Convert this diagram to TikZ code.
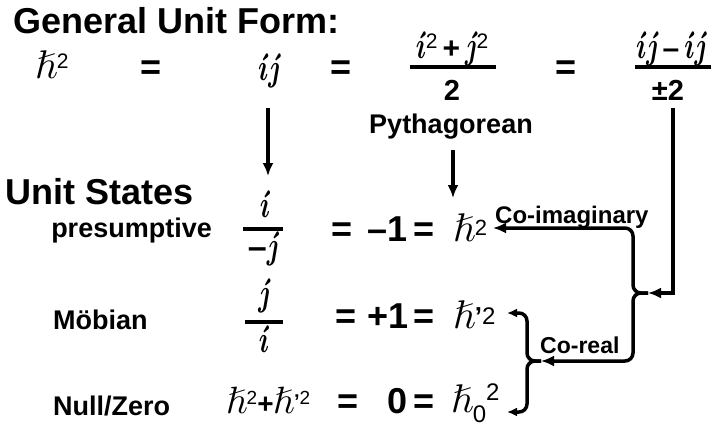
\RequirePackage{fix-cm}
\documentclass[tikz,border=0pt]{standalone}
\usepackage{amsmath,amssymb}
\usepackage{fontspec}
\setmainfont{Liberation Sans}
\usetikzlibrary{arrows.meta}
\newcommand{\SupTwo}[2]{\raisebox{#1}{\fontsize{#2}{#2}\selectfont\mdseries 2}}
\newcommand{\Ii}{\scalebox{0.68}[1]{$\acute{\imath}$}}
\newcommand{\Jj}{\scalebox{0.68}[1]{$\acute{\jmath}$}}
\newcommand{\Hh}{$\hslash$}
\newcommand{\Apos}[2]{\raisebox{#1}{\fontsize{#2}{#2}\selectfont\bfseries ’}}
\begin{document}
\begin{tikzpicture}[x=1pt,y=-1pt,
  lab/.style={font=\fontsize{27}{30}\selectfont\bfseries, inner sep=0pt, anchor=base west},
  head/.style={font=\fontsize{36}{40}\selectfont\bfseries, inner sep=0pt, anchor=base west},
  eqs/.style={font=\fontsize{36}{40}\selectfont\bfseries, inner sep=0pt, anchor=base west},
  den/.style={font=\fontsize{29}{30}\selectfont\bfseries, inner sep=0pt, anchor=base},
  mth/.style={font=\fontsize{38}{44}\selectfont\boldmath, inner sep=0pt, anchor=base west},
  hmth/.style={font=\fontsize{40}{44}\selectfont, inner sep=0pt, anchor=base west},
  conn/.style={line width=3.5pt, rounded corners=8pt},
  arr/.style={conn, -{Latex[length=13pt,width=11pt]}},
  arrs/.style={conn, -{Latex[length=10pt,width=9pt]}},
  fbar/.style={line width=4.5pt}]
\useasboundingbox (0,0) rectangle (713,426);

% title
\node[head] (title) at (13,33) {General Unit Form:};

% row 1
\node[hmth] (h1) at (35,78) {\Hh\SupTwo{10pt}{21pt}};
\node[eqs] (e1) at (140,79) {=};
\node[mth] (ij) at (258,80) {\Ii\Jj};
\node[eqs] (e2) at (330,79) {=};
\node[mth, anchor=base] (n1) at (452,58) {\Ii\SupTwo{10pt}{21pt}{\fontsize{30}{30}\selectfont\bfseries\,+\,}\Jj\SupTwo{10pt}{21pt}};
\draw[fbar] (410,67) -- (496,67);
\node[den] (d1) at (452,100) {2};
\node[eqs] (e3) at (555,79) {=};
\node[mth, anchor=base] (n2) at (671,58) {\Ii\Jj{\fontsize{30}{30}\selectfont\bfseries\,\textendash\,}\Ii\Jj};
\draw[fbar] (635,67) -- (711,67);
\node[den] (d2) at (668,100) {±2};

% Pythagorean
\node[lab, anchor=base] (pyth) at (451,133) {Pythagorean};

% Unit states
\node[head] (us) at (5,204) {Unit States};
\node[lab, anchor=base east] (pres) at (212,237) {presumptive};
\node[mth, anchor=base] (f1n) at (265,217) {\Ii};
\draw[fbar] (243,229) -- (283,229);
\node[mth, anchor=base] (f1d) at (263,258) {{\fontsize{34}{34}\selectfont\bfseries\textendash}\Jj};
\node[eqs] (r1a) at (331,241) {=};
\node[eqs] (r1b) at (367,241) {\textendash1};
\node[eqs] (r1c) at (413,241) {=};
\node[hmth] (r1h) at (453,241) {\Hh\SupTwo{6pt}{22pt}};

% Mobian
\node[lab] (mob) at (53,329) {Möbian};
\node[mth, anchor=base] (f2n) at (264,305) {\Jj};
\draw[fbar] (245,322) -- (283,322);
\node[mth, anchor=base] (f2d) at (264,352) {\Ii};
\node[eqs] (r2a) at (335,328) {=};
\node[eqs] (r2b) at (367,328) {+1};
\node[eqs] (r2c) at (413,328) {=};
\node[hmth] (r2h) at (453,328) {\Hh\Apos{3pt}{26pt}\SupTwo{4pt}{24pt}};

% Null / zero
\node[lab] (nul) at (53,415) {Null/Zero};
\node[hmth, font=\fontsize{38}{40}\selectfont] (sum) at (226,413) {\Hh\SupTwo{9pt}{19pt}{\fontsize{28}{28}\selectfont\bfseries +}\Hh\Apos{5pt}{20pt}\SupTwo{9pt}{19pt}};
\node[eqs] (r3a) at (337,413) {=};
\node[eqs] (r3b) at (387,413) {0};
\node[eqs] (r3c) at (413,413) {=};
\node[hmth] (r3h) at (451,412) {\Hh\raisebox{-10pt}{\fontsize{24}{24}\selectfont\mdseries 0}\raisebox{12pt}{\fontsize{24}{24}\selectfont\mdseries 2}};

% labels on connectors
\node[lab, font=\fontsize{24}{26}\selectfont\bfseries] (coim) at (495,223) {Co-imaginary};
\node[lab, font=\fontsize{23}{25}\selectfont\bfseries] (core) at (540,353) {Co-real};

% connector coordinates
\coordinate (a1s) at (268,108);
\coordinate (a1e) at (268,176);
\coordinate (a2s) at (453,150);
\coordinate (a2e) at (453,198);
\coordinate (rs) at (673,108);
\coordinate (b1) at (648,293);
\coordinate (b1u) at (633,228);
\coordinate (t1) at (493,228);
\coordinate (b1d) at (633,361);
\coordinate (b2) at (541,361);
\coordinate (b2u) at (527,313);
\coordinate (t2) at (507,313);
\coordinate (b2d) at (527,412);
\coordinate (t3) at (507,412);

\draw[arr] (a1s) -- (a1e);
\draw[arr] (a2s) -- (a2e);
\draw[arr, rounded corners=0pt] (rs) |- (b1);
\draw[arr] (b1) -| (b1u) -- (t1);
\draw[arr] (b1) -| (b1d) -- (b2);
\draw[arrs] (b2) -| (b2u) -- (t2);
\draw[arrs] (b2) -| (b2d) -- (t3);
\end{tikzpicture}
\end{document}
